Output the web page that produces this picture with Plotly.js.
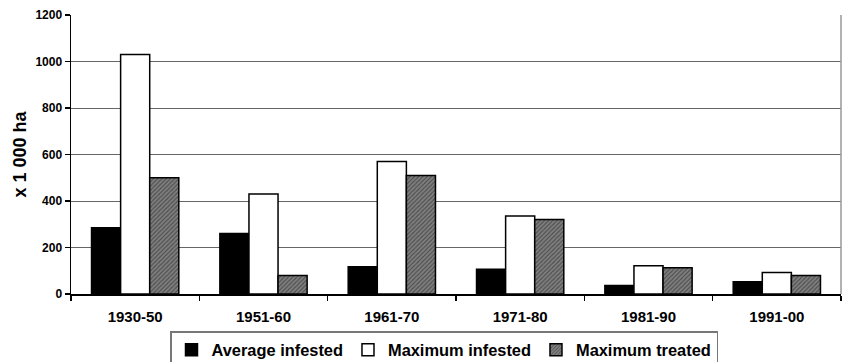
<!DOCTYPE html>
<html>
<head>
<meta charset="utf-8">
<script src="https://cdn.plot.ly/plotly-3.0.1.min.js"></script>
<style>html,body{margin:0;padding:0;background:#fff;}#chart{width:842px;height:362px;}</style>
</head>
<body>
<div id="chart"></div>
<script>
const categories = ["1930-50", "1951-60", "1961-70", "1971-80", "1981-90", "1991-00"];
const averageInfested = [285, 260, 117, 106, 37, 53];
const maximumInfested = [1030, 430, 570, 335, 122, 93];
const maximumTreated = [500, 80, 510, 320, 113, 80];
const seriesNames = ["Average infested", "Maximum infested", "Maximum treated"];
const yTicks = [0, 200, 400, 600, 800, 1000, 1200];

const fontFam = "Liberation Sans, Arial, sans-serif";
const line = {color: "#000", width: 1.5};

const traces = [
  {type: "bar", name: seriesNames[0], x: categories, y: averageInfested,
   marker: {color: "#000", line: line}},
  {type: "bar", name: seriesNames[1], x: categories, y: maximumInfested,
   marker: {color: "#fff", line: line}},
  {type: "bar", name: seriesNames[2], x: categories, y: maximumTreated,
   marker: {color: "#7a7a7a", line: line,
            pattern: {shape: "/", fgcolor: "#4a4a4a", bgcolor: "#7f7f7f", size: 3, solidity: 0.35}}}
];

const layout = {
  width: 842, height: 362,
  margin: {l: 71, r: 1, t: 15, b: 68, autoexpand: false},
  paper_bgcolor: "#fff", plot_bgcolor: "#fff",
  barmode: "group", bargap: 0.32, bargroupgap: 0,
  font: {family: fontFam, size: 12, color: "#000", weight: "bold"},
  showlegend: true,
  legend: {orientation: "h", x: 444 / 842, xanchor: "center", xref: "container",
           y: 31 / 362, yanchor: "top", yref: "container",
           bordercolor: "#777", borderwidth: 1.5, font: {size: 16.4, family: fontFam, weight: "bold"},
           itemwidth: 30, traceorder: "normal", tracegroupgap: 0},
  xaxis: {type: "category", showline: true, linecolor: "#000", linewidth: 1.5,
          ticks: "outside", tickson: "boundaries", ticklen: 5, tickcolor: "#000", tickwidth: 1.5,
          ticklabelstandoff: 8,
          tickfont: {size: 15, family: fontFam, weight: "bold"}, showgrid: false, zeroline: false},
  yaxis: {range: [0, 1200], tickvals: yTicks, ticktext: yTicks.map(String),
          showline: true, linecolor: "#000", linewidth: 1.5,
          ticks: "outside", ticklen: 5, tickcolor: "#000", tickwidth: 1.5,
          tickfont: {size: 12, family: fontFam, weight: "bold"},
          showgrid: true, gridcolor: "#666", gridwidth: 1, zeroline: false,
          title: {text: "x 1 000 ha", font: {size: 18, family: fontFam, weight: "bold"}, standoff: 4}},
  shapes: [{type: "line", xref: "paper", yref: "paper", x0: 1, x1: 1, y0: 0, y1: 1,
            line: {color: "#999", width: 1.5}}]
};

Plotly.newPlot("chart", traces, layout, {displayModeBar: false, staticPlot: true});
</script>
</body>
</html>
